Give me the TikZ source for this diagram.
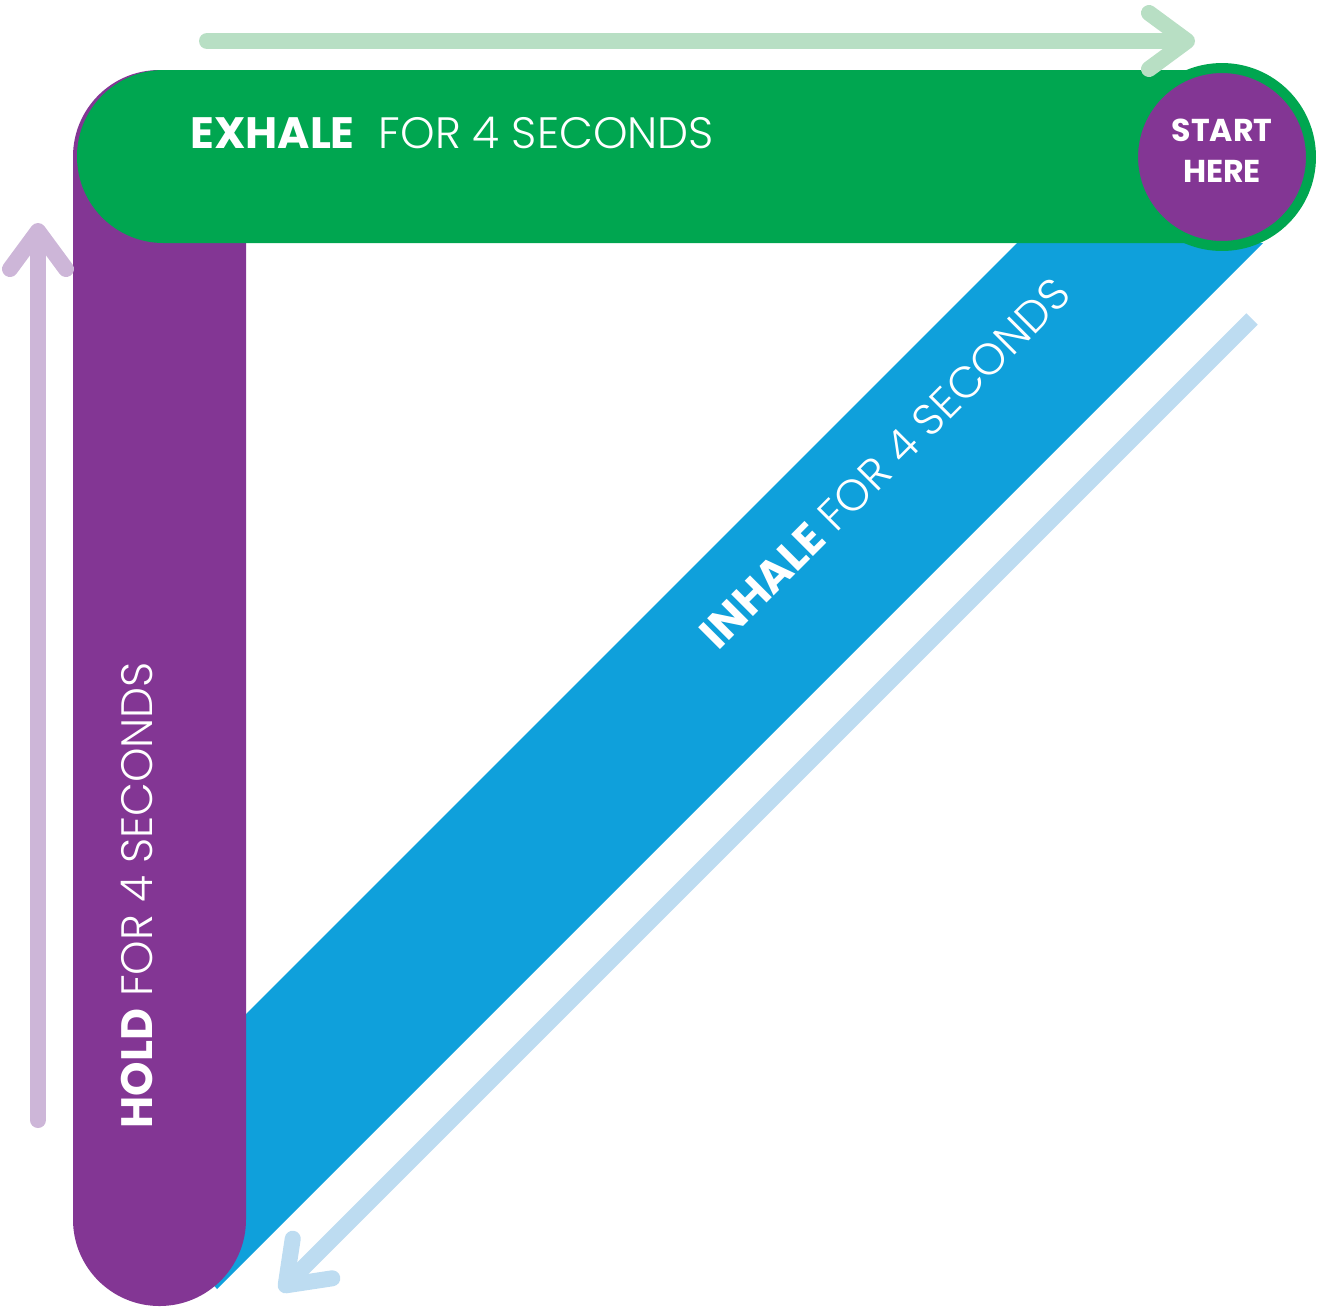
\documentclass[tikz,border=0pt]{standalone}
\usepackage{fontspec}
\setmainfont{Poppins}
\newfontfamily\lightfont{Poppins}[UprightFont={* Light}]
\usetikzlibrary{arrows.meta}

\definecolor{exhalegreen}{HTML}{00A650}
\definecolor{holdpurple}{HTML}{833694}
\definecolor{inhaleblue}{HTML}{0FA0DB}
\definecolor{greenpale}{HTML}{B8DFC4}
\definecolor{purplepale}{HTML}{CDB6D8}
\definecolor{bluepale}{HTML}{BDDCF1}

\begin{document}
\begin{tikzpicture}[
    x=0.02cm, y=-0.02cm,
    label/.style={text=white, inner sep=0pt, font=\fontsize{25}{30}\selectfont},
    guide/.style={line width=0.32cm, line cap=round,
        -{Straight Barb[length=0.76cm, width=1.12cm, round]}}
]
    \useasboundingbox (0,0) rectangle (1321,1306);

    % Inhale band
    \fill[inhaleblue] (1017,243) -- (1263,243) -- (217,1289) -- (159,1220) -- (159,1101) -- cycle;

    % Hold bar
    \fill[holdpurple, rounded corners=1.73cm] (73,70) rectangle (246,1306);

    % Exhale bar
    \fill[exhalegreen] (1222,243) [rounded corners=1.73cm] -- (77,243) -- (77,70) [sharp corners] -- (1222,70) -- cycle;

    % Start circle
    \node (start) [circle, fill=holdpurple, draw=exhalegreen, line width=0.2cm,
        minimum size=3.56cm, inner sep=0pt] at (1222,157) {};
    \node (start text) [text=white, align=center, inner sep=0pt, yshift=0.12cm,
        font=\bfseries\fontsize{18}{23.5}\selectfont] at (start.center) {START\\HERE};

    % Labels
    \node (exhale) [label, anchor=west] at (190,133) {\textbf{EXHALE}\hspace{0.55em}{\lightfont FOR 4 SECONDS}};
    \node (hold) [label, rotate=90] at (137,895) {\textbf{HOLD} {\lightfont FOR 4 SECONDS}};
    \node (inhale) [label, rotate=45] at (885,463) {\textbf{INHALE} {\lightfont FOR 4 SECONDS}};

    % Guide arrows
    \coordinate (exhale from) at (207,41);
    \coordinate (exhale to) at (1195,41);
    \coordinate (hold from) at (38,1120);
    \coordinate (hold to) at (38,223);
    \coordinate (inhale from) at (1252,319);
    \coordinate (inhale to) at (280,1291);

    \draw [guide, draw=greenpale] (exhale from) -- (exhale to);
    \draw [guide, draw=purplepale] (hold from) -- (hold to);
    \draw [guide, draw=bluepale, line cap=butt] (inhale from) -- (inhale to);

\end{tikzpicture}
\end{document}
